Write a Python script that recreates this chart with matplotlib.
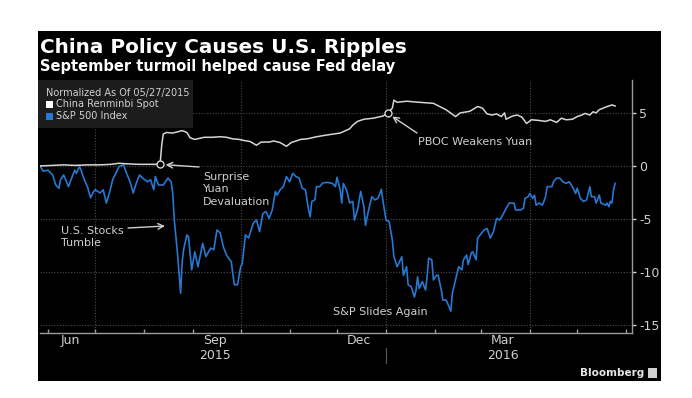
import datetime as dt
import matplotlib
matplotlib.use("Agg")
import matplotlib.pyplot as plt
import matplotlib.dates as mdates
import matplotlib.transforms as mtransforms
from matplotlib.patches import Rectangle

plt.rcParams["font.family"] = "DejaVu Sans"
plt.rcParams["axes.unicode_minus"] = False

W, H = 692, 398

# data: days since 2015-05-27, % change (normalized)
start = dt.datetime(2015, 5, 27)

cny_days = [0, 8, 15, 22, 30, 38, 45, 50, 55, 62, 68, 76, 77, 78, 80, 84, 88, 90, 93, 95,
            98, 101, 104, 109, 114, 118, 122, 126, 129, 133, 137, 140, 145, 148, 152, 156,
            159, 165, 169, 175, 181, 190, 196, 198, 201, 205, 211, 217, 220, 223, 224, 226,
            232, 240, 249, 257, 263, 266, 272, 277, 280, 283, 286, 289, 292, 294, 295, 299,
            302, 305, 308, 311, 315, 320, 323, 327, 330, 333, 337, 340, 343, 345, 348, 350,
            352, 354, 359, 362, 364]
cny_vals = [0.0, 0.05, 0.1, 0.05, 0.1, 0.1, 0.15, 0.25, 0.2, 0.15, 0.15, 0.15, 1.9, 3.0, 3.15,
            3.1, 3.25, 3.33, 3.15, 2.65, 2.5, 2.6, 2.7, 2.7, 2.75, 2.7, 2.55, 2.5, 2.4, 2.3,
            1.95, 2.25, 2.25, 2.35, 2.2, 1.85, 2.2, 2.5, 2.55, 2.75, 2.9, 3.1, 3.5, 3.85, 4.2,
            4.4, 4.5, 4.7, 4.95, 5.45, 6.2, 6.0, 6.1, 6.0, 5.9, 5.3, 4.65, 5.0, 5.15, 5.6,
            5.45, 4.9, 4.8, 4.9, 4.65, 5.0, 4.4, 4.7, 4.8, 4.6, 4.0, 4.35, 4.3, 4.2, 4.35,
            4.1, 4.5, 4.35, 4.4, 4.65, 4.8, 4.95, 4.8, 5.1, 5.0, 5.3, 5.6, 5.75, 5.65]

spx_days = [0, 2, 5, 8, 10, 12, 13, 15, 17, 18, 20, 22, 23, 25, 26, 28, 30, 32, 34, 35, 38,
            40, 42, 44, 46, 48, 50, 53, 54, 57, 59, 61, 63, 65, 68, 70, 72, 73, 75, 78, 81,
            83, 84, 85, 87, 89, 90, 91, 93, 94, 96, 98, 100, 103, 105, 108, 110, 112, 114,
            116, 118, 121, 123, 125, 127, 128, 130, 132, 135, 137, 139, 141, 143, 145, 147,
            149, 150, 152, 154, 156, 158, 160, 162, 164, 166, 168, 170, 171, 172, 174, 175,
            177, 179, 182, 185, 187, 188, 190, 191, 192, 194, 196, 198, 199, 201, 203, 205,
            206, 208, 210, 212, 214, 216, 217, 219, 221, 223, 224, 226, 227, 229, 230, 232,
            233, 235, 237, 238, 239, 240, 242, 244, 245, 246, 248, 249, 251, 252, 254, 255,
            257, 258, 260, 261, 263, 265, 267, 268, 270, 271, 273, 274, 276, 277, 281, 283,
            285, 287, 289, 291, 293, 295, 297, 300, 301, 304, 306, 307, 309, 310, 312, 313,
            314, 316, 318, 320, 321, 324, 325, 327, 329, 331, 333, 335, 337, 339, 340, 342,
            344, 346, 348, 349, 351, 352, 354, 355, 358, 359, 360, 361, 362, 363, 364]
spx_vals = [0.0, -0.5, -0.4, -0.85, -1.8, -2.1, -1.3, -0.85, -1.6, -1.95, -1.15, -0.4, -0.7,
            -0.05, -0.4, -1.3, -1.95, -3.0, -2.4, -2.25, -2.55, -2.25, -3.5, -2.5, -1.3, -0.7,
            -0.05, 0.1, -0.4, -1.5, -2.55, -1.6, -0.85, -1.15, -1.5, -1.3, -2.25, -1.0, -1.8,
            -1.8, -1.15, -1.5, -2.5, -5.1, -8.2, -12.0, -9.0, -7.8, -6.5, -6.7, -9.8, -8.1,
            -9.5, -7.3, -8.55, -7.75, -7.9, -6.05, -6.3, -7.6, -8.4, -9.0, -11.2, -11.2, -9.5,
            -9.2, -6.5, -6.8, -5.4, -5.1, -6.2, -4.5, -4.3, -4.95, -4.15, -2.4, -2.75, -2.25,
            -1.95, -1.0, -1.5, -0.7, -1.0, -1.15, -2.1, -2.25, -4.15, -4.8, -3.35, -3.2, -1.95,
            -1.95, -1.6, -1.55, -1.65, -1.95, -1.07, -2.25, -3.5, -1.65, -2.25, -3.5, -3.35,
            -5.1, -4.15, -2.4, -3.85, -5.6, -4.15, -2.9, -3.2, -3.05, -2.2, -3.2, -5.1, -5.25,
            -7.0, -8.55, -9.5, -9.2, -8.55, -10.3, -9.5, -11.2, -11.4, -12.35, -11.7, -10.45,
            -11.55, -10.9, -11.7, -10.45, -8.7, -8.85, -10.75, -10.3, -10.3, -11.7, -12.65,
            -12.65, -12.95, -13.7, -12.0, -10.75, -9.5, -9.8, -8.85, -8.4, -9.3, -8.2, -8.1,
            -8.85, -6.8, -6.05, -5.9, -6.8, -6.2, -4.95, -5.1, -4.6, -4.0, -3.5, -3.5, -4.15,
            -4.15, -4.0, -3.05, -2.9, -2.6, -3.05, -2.75, -3.7, -3.5, -3.7, -2.9, -1.95, -1.95,
            -1.5, -1.15, -1.15, -1.5, -1.65, -1.5, -1.95, -2.6, -2.1, -3.05, -3.35, -3.2, -1.95,
            -2.9, -2.9, -3.5, -2.75, -3.5, -3.7, -3.5, -3.85, -3.35, -3.5, -2.25, -1.65]

yticks = [5, 0, -5, -10, -15]
xlabel_dates = ["2015-06-15", "2015-09-15", "2015-12-15", "2016-03-15"]
xlabels = ["Jun", "Sep\n2015", "Dec", "Mar\n2016"]
grid_dates = ["2015-07-01", "2015-10-01", "2016-01-01", "2016-04-01"]
devaluation_day = 76
pboc_day = 220

title = "China Policy Causes U.S. Ripples"
subtitle = "September turmoil helped cause Fed delay"


def to_dates(days):
    return [start + dt.timedelta(days=d) for d in days]


def fpx(x, y):
    # pixel (from top-left) -> figure fraction
    return x / W, 1 - y / H


fig = plt.figure(figsize=(W / 100, H / 100), dpi=100, facecolor="white")
fig.patches.append(Rectangle(fpx(38, 381), 623 / W, 350 / H, transform=fig.transFigure,
                             facecolor="black", edgecolor="none", zorder=-10))

ax = fig.add_axes([40 / W, 1 - 333 / H, 592 / W, 253 / H])
ax.set_facecolor("black")

cny_x = to_dates(cny_days)
spx_x = to_dates(spx_days)
ax.plot(spx_x, spx_vals, color="#2678d2", lw=1.2, zorder=3)
ax.plot(cny_x, cny_vals, color="#d6d6d6", lw=1.1, zorder=4)

# circled points on the yuan line
for d in (devaluation_day, pboc_day):
    i = cny_days.index(d)
    ax.plot(cny_x[i], cny_vals[i], "o", ms=5, mfc="black", mec="#d6d6d6", mew=1.0, zorder=5)

ax.set_xlim(start, start + dt.timedelta(days=374.7))
ax.set_ylim(-15.75, 8.1)

# grid
for v in yticks:
    ax.axhline(v, color="#4a4a4a", lw=0.8, ls=(0, (1, 1.5)), zorder=1)
for g in grid_dates:
    ax.axvline(dt.datetime.fromisoformat(g), color="#4a4a4a", lw=0.8, ls=(0, (1, 1.5)), zorder=1)

for s in ("top", "left"):
    ax.spines[s].set_visible(False)
for s in ("right", "bottom"):
    ax.spines[s].set_color("#9a9a9a")
    ax.spines[s].set_linewidth(1.0)

ax.yaxis.tick_right()
ax.set_yticks(yticks)
ax.set_yticklabels([str(v) for v in yticks])
ax.tick_params(axis="y", which="both", left=False, right=True, length=3, width=1,
               color="#cfcfcf", labelcolor="#d0d0d0", labelsize=9, pad=2)

ax.set_xticks([dt.datetime.fromisoformat(d) for d in xlabel_dates])
ax.set_xticklabels(xlabels)
for lab in ax.get_xticklabels():
    lab.set_linespacing(1.15)
ax.xaxis.set_minor_locator(mdates.MonthLocator())
ax.tick_params(axis="x", which="major", length=0, labelcolor="#d0d0d0", labelsize=9, pad=1)
ax.tick_params(axis="x", which="minor", direction="in", length=3, width=1, color="#9a9a9a")

# year separator
trans = mtransforms.blended_transform_factory(ax.transData, ax.transAxes)
jan1 = dt.datetime(2016, 1, 1)
ax.plot([jan1, jan1], [-0.06, -0.12], transform=trans, clip_on=False, color="#5a5a5a", lw=0.8)

# titles
fig.text(*fpx(40, 53), title, color="white", fontsize=14.4, fontweight="bold", va="baseline")
fig.text(*fpx(40, 71), subtitle, color="white", fontsize=10.5, fontweight="bold", va="baseline")

# legend box
fig.patches.append(Rectangle(fpx(38, 128), 155 / W, 48 / H, transform=fig.transFigure,
                             facecolor="#1c1c1c", edgecolor="none", zorder=1))
fig.text(*fpx(46, 93), "Normalized As Of 05/27/2015", color="#d0d0d0", fontsize=7, va="center")
fig.patches.append(Rectangle(fpx(46, 108), 7 / W, 7 / H, transform=fig.transFigure,
                             facecolor="white", edgecolor="none", zorder=2))
fig.text(*fpx(56, 104), "China Renminbi Spot", color="#d0d0d0", fontsize=7, va="center")
fig.patches.append(Rectangle(fpx(46, 120), 7 / W, 7 / H, transform=fig.transFigure,
                             facecolor="#2678d2", edgecolor="none", zorder=2))
fig.text(*fpx(56, 116), "S&P 500 Index", color="#d0d0d0", fontsize=7, va="center")

# annotations
txt = "#d0d0d0"
arrow = dict(arrowstyle="->", color=txt, lw=1.0, shrinkA=0, shrinkB=4)
i = cny_days.index(devaluation_day)
ax.annotate("", xy=(cny_x[i], cny_vals[i]), xytext=(199, H - 167),
            textcoords="figure pixels", arrowprops=arrow)
fig.text(*fpx(203, 172), "Surprise\nYuan\nDevaluation", color=txt, fontsize=8,
         va="top", linespacing=1.3)

ax.annotate("", xy=(165, H - 226), xycoords="figure pixels", xytext=(128, H - 228),
            textcoords="figure pixels", arrowprops=dict(arrow, shrinkB=0))
fig.text(*fpx(61, 226), "U.S. Stocks\nTumble", color=txt, fontsize=8, va="top", linespacing=1.3)

i = cny_days.index(pboc_day)
ax.annotate("", xy=(cny_x[i], cny_vals[i]), xytext=(417, H - 133),
            textcoords="figure pixels", arrowprops=arrow)
fig.text(*fpx(418, 142), "PBOC Weakens Yuan", color=txt, fontsize=8, va="center")

fig.text(*fpx(333, 312), "S&P Slides Again", color=txt, fontsize=8, va="center")

# bloomberg mark
fig.text(*fpx(644, 373), "Bloomberg", color="#e6e6e6", fontsize=7.5, fontweight="bold",
         ha="right", va="center")
fig.patches.append(Rectangle(fpx(648, 378), 9 / W, 10 / H, transform=fig.transFigure,
                             facecolor="#cfcfcf", edgecolor="none", zorder=2))

fig.savefig("out.png", dpi=100, facecolor="white")
